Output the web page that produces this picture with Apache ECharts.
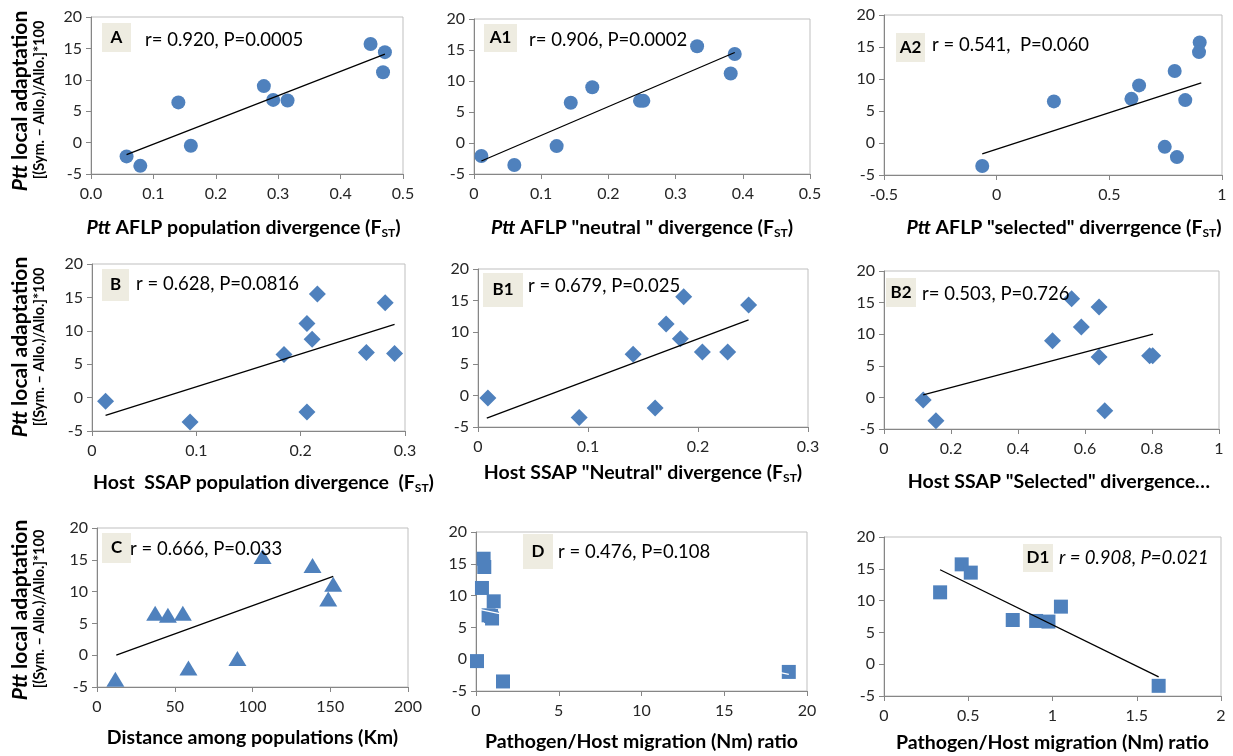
<!DOCTYPE html>
<html>
<head>
<meta charset="utf-8">
<script src="https://cdn.jsdelivr.net/npm/echarts@6/dist/echarts.min.js"></script>
<style>
html,body{margin:0;padding:0;background:#fff;}
#chart{width:1233px;height:756px;}
</style>
</head>
<body>
<div id="chart"></div>
<script>
// ---- data ----
const aX = [0.057, 0.079, 0.140, 0.160, 0.277, 0.292, 0.315, 0.448, 0.471, 0.468];
const aY = [-2.2, -3.7, 6.4, -0.5, 9.0, 6.8, 6.7, 15.7, 14.4, 11.2];
const aTrend = [[0.057, -1.9], [0.471, 14.1]];

const a1X = [0.011, 0.060, 0.123, 0.144, 0.176, 0.247, 0.252, 0.332, 0.388, 0.382];
const a1Y = [-2.1, -3.55, -0.5, 6.5, 9.0, 6.8, 6.8, 15.6, 14.35, 11.2];
const a1Trend = [[0.011, -2.9], [0.388, 14.6]];

const a2X = [-0.064, 0.254, 0.598, 0.632, 0.790, 0.837, 0.746, 0.800, 0.901, 0.898];
const a2Y = [-3.6, 6.5, 6.9, 9.0, 11.25, 6.7, -0.6, -2.2, 15.7, 14.2];
const a2Trend = [[-0.064, -1.7], [0.908, 9.4]];

const bX = [0.013, 0.094, 0.184, 0.206, 0.211, 0.206, 0.216, 0.263, 0.281, 0.290];
const bY = [-0.55, -3.65, 6.45, 11.1, 8.75, -2.15, 15.5, 6.75, 14.2, 6.6];
const bTrend = [[0.013, -2.65], [0.290, 10.95]];

const b1X = [0.009, 0.092, 0.141, 0.161, 0.171, 0.184, 0.187, 0.204, 0.227, 0.246];
const b1Y = [-0.4, -3.5, 6.5, -2.0, 11.3, 8.95, 15.6, 6.85, 6.85, 14.3];
const b1Trend = [[0.008, -3.6], [0.246, 11.95]];

const b2X = [0.117, 0.155, 0.503, 0.560, 0.589, 0.642, 0.642, 0.659, 0.793, 0.802];
const b2Y = [-0.4, -3.7, 8.95, 15.6, 11.15, 14.3, 6.4, -2.1, 6.6, 6.6];
const b2Trend = [[0.117, 0.4], [0.803, 10.0]];

const cX = [11.8, 37.4, 45.6, 55.2, 58.8, 90.3, 106.5, 138.6, 148.7, 151.9];
const cY = [-3.8, 6.6, 6.3, 6.6, -2.0, -0.5, 15.5, 14.1, 8.85, 11.15];
const cTrend = [[12.4, 0.0], [151.9, 12.4]];

const dX = [0.46, 0.50, 0.36, 1.07, 0.76, 0.91, 0.97, 0.06, 1.63, 18.9];
const dY = [15.8, 14.5, 11.2, 9.1, 6.9, 6.8, 6.4, -0.3, -3.5, -2.0];
const dTrend = [[0.06, 7.9], [18.9, -2.4]];

const d1X = [0.333, 0.461, 0.515, 0.764, 0.903, 0.976, 1.05, 1.63];
const d1Y = [11.3, 15.7, 14.4, 6.95, 6.8, 6.7, 9.05, -3.4];
const d1Trend = [[0.333, 14.85], [1.63, -2.0]];

const yTicks = { min: -5, max: 20, interval: 5 };

const panelLabels = ['A', 'A1', 'A2', 'B', 'B1', 'B2', 'C', 'D', 'D1'];
const statTexts = [
  'r= 0.920, P=0.0005', 'r= 0.906, P=0.0002', 'r = 0.541,  P=0.060',
  'r = 0.628, P=0.0816', 'r = 0.679, P=0.025', 'r= 0.503, P=0.726',
  'r = 0.666, P=0.033', 'r = 0.476, P=0.108', 'r = 0.908, P=0.021'
];
const xTitles = [
  '{i|Ptt} AFLP population divergence (F{s|ST})',
  '{i|Ptt} AFLP "neutral " divergence (F{s|ST})',
  '{i|Ptt} AFLP "selected" diverrgence (F{s|ST})',
  'Host  SSAP population divergence  (F{s|ST})',
  'Host SSAP "Neutral" divergence (F{s|ST})',
  'Host SSAP "Selected" divergence\u2026',
  'Distance among populations (Km)',
  'Pathogen/Host migration (Nm) ratio',
  'Pathogen/Host migration (Nm) ratio'
];
const xAxes = [
  { min: 0, max: 0.5, interval: 0.1, fmt: v => v.toFixed(1) },
  { min: 0, max: 0.5, interval: 0.1 },
  { min: -0.5, max: 1, interval: 0.5 },
  { min: 0, max: 0.3, interval: 0.1 },
  { min: 0, max: 0.3, interval: 0.1 },
  { min: 0, max: 1, interval: 0.2 },
  { min: 0, max: 200, interval: 50 },
  { min: 0, max: 20, interval: 5 },
  { min: 0, max: 2, interval: 0.5 }
];
const seriesX = [aX, a1X, a2X, bX, b1X, b2X, cX, dX, d1X];
const seriesY = [aY, a1Y, a2Y, bY, b1Y, b2Y, cY, dY, d1Y];
const trends = [aTrend, a1Trend, a2Trend, bTrend, b1Trend, b2Trend, cTrend, dTrend, d1Trend];

// ---- layout / style ----
const FONT = 'Lato';
const BLUE = '#4F81BD';
const grids = [
  { left: 91, top: 17, width: 312, height: 157 },
  { left: 474, top: 19, width: 336, height: 155 },
  { left: 884, top: 15, width: 338, height: 160 },
  { left: 92, top: 264, width: 313, height: 167 },
  { left: 478, top: 269, width: 330, height: 158 },
  { left: 884, top: 271, width: 335, height: 158 },
  { left: 97, top: 528, width: 311, height: 159 },
  { left: 476, top: 532, width: 331, height: 159 },
  { left: 884, top: 537, width: 337, height: 159 }
];
const nameGaps = [43, 43, 42, 41, 35, 42, 40, 40, 36];
const namePads = [[0, 7, 0, 0], [0, 0, 0, 0], [0, 0, 0, 22], [0, 0, 0, 30], [0, 0, 0, 0], [0, 0, 0, 15], [0, 0, 0, 0], [0, 0, 0, 0], [0, 0, 0, 0]];
const symbols = ['circle', 'circle', 'circle', 'diamond', 'diamond', 'diamond', 'triangle', 'rect', 'rect'];
const symbolSizes = [14, 14, 14, 17, 17, 17, [18, 15], 14, 14];
const trendColors = ['#000', '#000', '#000', '#000', '#000', '#000', '#000', '#fff', '#000'];
const boxes = [
  [102, 23, 29, 29], [484, 24, 33, 28], [896, 33, 29, 29],
  [102, 269, 27, 32], [483, 273, 40, 34], [886, 278, 30, 29],
  [102, 533, 29, 30], [523, 534, 30, 35], [1023, 544, 30, 28]
];
const statPos = [
  [145, 40], [529, 40], [932, 45],
  [136, 284], [528, 286], [922, 294],
  [130, 549], [558, 552], [1059, 558]
];
const yTitleRows = [[20, 101, 39, 100], [20, 347, 39, 347], [20, 610, 39, 609]];

const option = {
  backgroundColor: '#fff',
  animation: false,
  textStyle: { fontFamily: FONT },
  grid: grids.map(g => Object.assign({ show: true, borderColor: '#BFBFBF', borderWidth: 1, containLabel: false }, g)),
  xAxis: xAxes.map((ax, i) => ({
    type: 'value', gridIndex: i, min: ax.min, max: ax.max, interval: ax.interval,
    axisLine: { show: true, onZero: false, lineStyle: { color: '#868686', width: 1 } },
    axisTick: { show: true, length: 5, lineStyle: { color: '#868686' } },
    splitLine: { show: false },
    axisLabel: { fontSize: 16, color: '#262626', margin: 12, fontFamily: FONT, formatter: ax.fmt ? ax.fmt : undefined },
    name: xTitles[i], nameLocation: 'middle', nameGap: nameGaps[i],
    nameTextStyle: {
      fontSize: 19.5, fontWeight: 'bold', color: '#000', fontFamily: FONT, padding: namePads[i], lineHeight: 22,
      rich: {
        i: { fontStyle: 'italic', fontWeight: 'bold', fontSize: 19.5, fontFamily: FONT, color: '#000', lineHeight: 22 },
        s: { fontSize: 12, fontWeight: 'bold', fontFamily: FONT, color: '#000', verticalAlign: 'bottom', lineHeight: 22, padding: [9, 0, 0, 0] }
      }
    }
  })),
  yAxis: grids.map((g, i) => ({
    type: 'value', gridIndex: i, min: yTicks.min, max: yTicks.max, interval: yTicks.interval,
    axisLine: { show: true, onZero: false, lineStyle: { color: '#868686', width: 1 } },
    axisTick: { show: true, length: 5, lineStyle: { color: '#868686' } },
    splitLine: { show: false },
    axisLabel: { fontSize: 16, color: '#262626', margin: 9, fontFamily: FONT }
  })),
  series: [],
  graphic: []
};

for (let i = 0; i < 9; i++) {
  option.series.push({
    type: 'scatter', xAxisIndex: i, yAxisIndex: i,
    symbol: symbols[i], symbolSize: symbolSizes[i],
    itemStyle: { color: BLUE, opacity: 1 },
    data: seriesX[i].map((x, k) => [x, seriesY[i][k]]),
    z: 2
  });
  option.series.push({
    type: 'line', xAxisIndex: i, yAxisIndex: i,
    data: trends[i], showSymbol: false, symbol: 'none',
    lineStyle: { color: trendColors[i], width: 1.3 },
    z: 3, silent: true
  });
  const b = boxes[i];
  option.graphic.push({
    type: 'rect', shape: { x: b[0], y: b[1], width: b[2], height: b[3] },
    style: { fill: '#EEECE1' }, z: 10
  });
  option.graphic.push({
    type: 'text', x: b[0] + b[2] / 2, y: b[1] + b[3] / 2, z: 11,
    style: { text: panelLabels[i], fontSize: 17, fontWeight: 'bold', fontFamily: FONT, fill: '#000', align: 'center', verticalAlign: 'middle' }
  });
  option.graphic.push({
    type: 'text', x: statPos[i][0], y: statPos[i][1], z: 11,
    style: { text: statTexts[i], fontSize: 18.5, fontFamily: FONT, fontStyle: i === 8 ? 'italic' : 'normal', fill: '#000', align: 'left', verticalAlign: 'middle' }
  });
}

yTitleRows.forEach(r => {
  option.graphic.push({
    type: 'text', x: r[0], y: r[1], rotation: Math.PI / 2, z: 11,
    style: {
      text: '{i|Ptt}{b| local adaptation}', align: 'center', verticalAlign: 'middle',
      fontSize: 21, fontWeight: 'bold', fontFamily: FONT, fill: '#000',
      rich: {
        i: { fontStyle: 'italic', fontWeight: 'bold', fontSize: 21, fontFamily: FONT, fill: '#000' },
        b: { fontWeight: 'bold', fontSize: 21, fontFamily: FONT, fill: '#000' }
      }
    }
  });
  option.graphic.push({
    type: 'text', x: r[2], y: r[3], rotation: Math.PI / 2, z: 11,
    style: { text: '[(Sym. \u2013 Allo.)/Allo.]*100', align: 'center', verticalAlign: 'middle', fontSize: 14.5, fontWeight: 'bold', fontFamily: FONT, fill: '#000' }
  });
});

const chart = echarts.init(document.getElementById('chart'), null, { renderer: 'canvas' });
chart.setOption(option);
</script>
</body>
</html>
